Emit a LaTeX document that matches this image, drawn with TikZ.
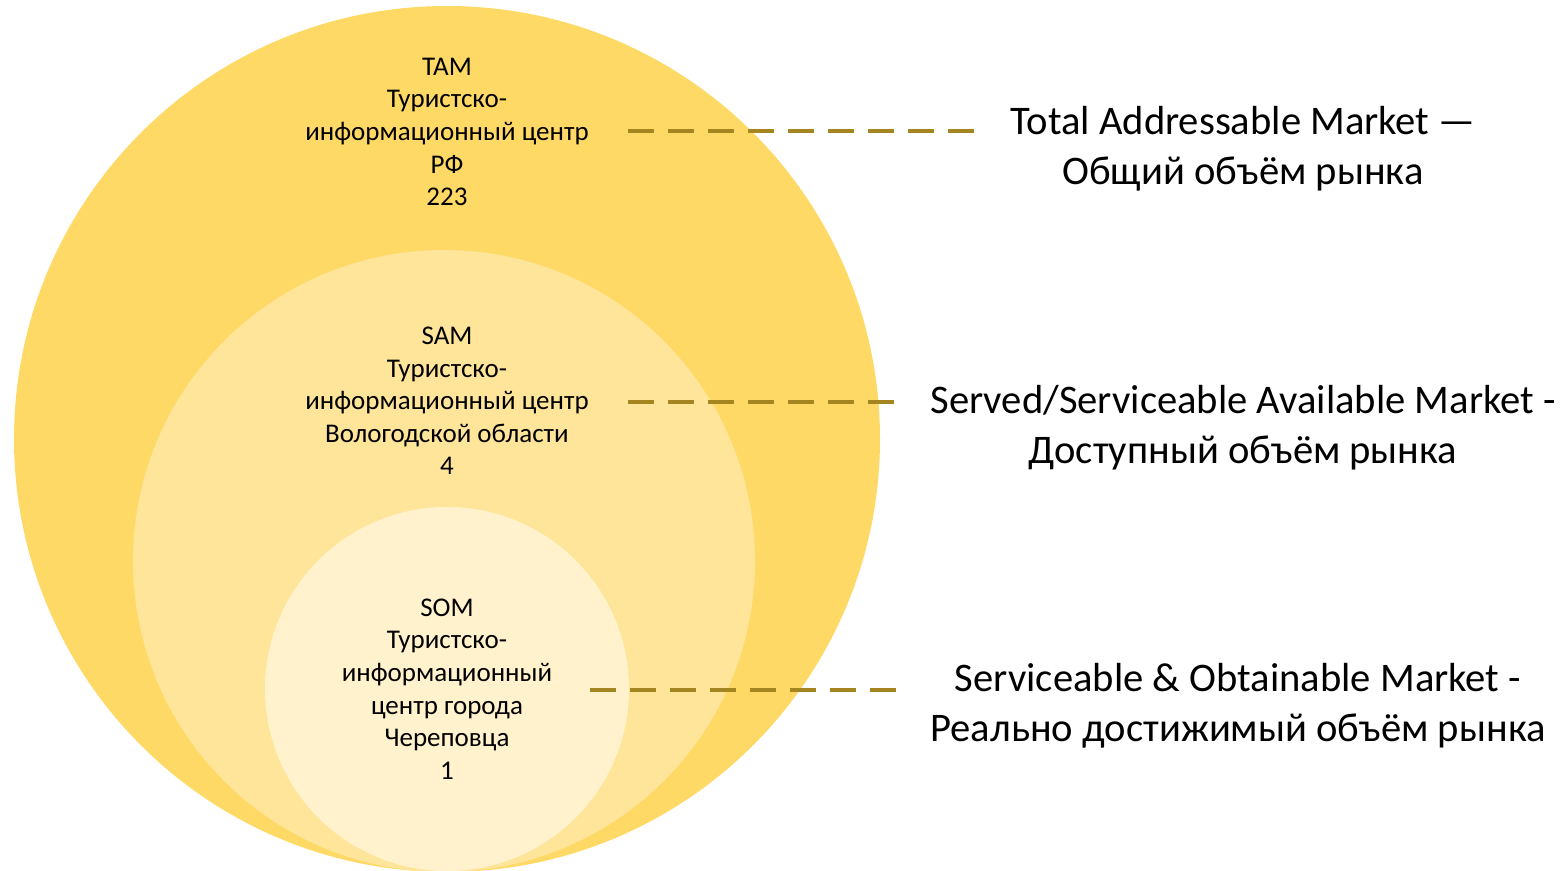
\documentclass[tikz,border=0pt]{standalone}
\usepackage{fontspec}
\setmainfont{Carlito}
\usetikzlibrary{positioning}

\definecolor{tamfill}{HTML}{FFD966}
\definecolor{samfill}{HTML}{FFE599}
\definecolor{somfill}{HTML}{FFF2CC}
\definecolor{dashcol}{HTML}{A5851F}

\tikzset{
	market/.style={circle, inner sep=0pt, draw=none},
	intext/.style={align=center, font=\fontsize{13.5}{16.3}\selectfont},
	outtext/.style={align=center, font=\fontsize{20.3}{25}\selectfont},
	leader/.style={dashcol, line width=1.8pt, dash pattern=on 13pt off 7pt}
}

\begin{document}
\begin{tikzpicture}[x=0.5pt, y=-0.5pt]
	\useasboundingbox (0,0) rectangle (1562,871);
	% Draw the circles
	\node[market, fill=tamfill, minimum size=433pt] (tam) at (447,439) {};
	\node[market, fill=samfill, minimum size=311pt] (sam) at (444,561) {};
	\node[market, fill=somfill, minimum size=182pt] (som) at (447,689) {};
	% Texts inside the circles
	\node[intext] (tamtxt) at (447,132) {TAM\\Туристско-\\информационный центр\\РФ\\223};
	\node[intext] (samtxt) at (447,401) {SAM\\Туристско-\\информационный центр\\Вологодской области\\4};
	\node[intext] (somtxt) at (447,689) {SOM\\Туристско-\\информационный\\центр города\\Череповца\\1};
	% Texts on the right
	\node[outtext] (tamlbl) at (1243,149) {Total Addressable Market —\\Общий объём рынка};
	\node[outtext] (samlbl) at (1243,428) {Served/Serviceable Available Market -\\Доступный объём рынка};
	\node[outtext] (somlbl) at (1238,706) {Serviceable \& Obtainable Market -\\Реально достижимый объём рынка};
	% Connect them with dashed lines
	\coordinate (tamA) at (628,131);
	\coordinate (tamB) at (980,131);
	\coordinate (samA) at (628,402);
	\coordinate (samB) at (900,402);
	\coordinate (somA) at (590,690);
	\coordinate (somB) at (900,690);
	\draw[leader] (tamA) -- (tamB);
	\draw[leader] (samA) -- (samB);
	\draw[leader] (somA) -- (somB);
\end{tikzpicture}
\end{document}
